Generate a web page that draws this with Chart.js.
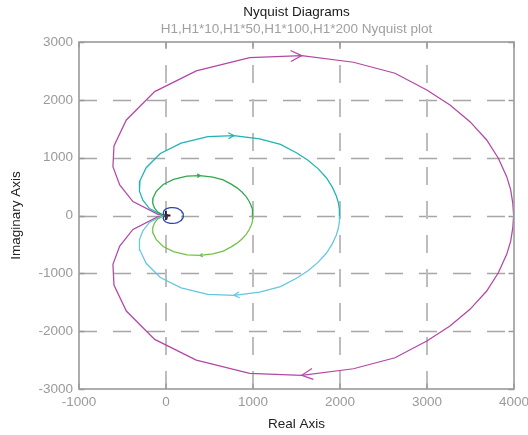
<!DOCTYPE html>
<html>
<head>
<meta charset="utf-8">
<script src="https://cdn.jsdelivr.net/npm/chart.js@4"></script>
<style>
  html, body { margin: 0; padding: 0; background: #ffffff; }
  #wrap { width: 528px; height: 435px; }
</style>
</head>
<body>
<div id="wrap"><canvas id="nyq" width="528" height="435"></canvas></div>
<script>
// H1(jw) along the upper branch, from w = 0 (on the real axis) to w -> inf (origin)
const h1Re = [19.98, 19.93, 19.81, 19.58, 19.10, 18.43, 17.47, 16.32, 14.99, 13.16, 10.77,
              7.80, 4.81, 1.74, -0.65, -2.28, -2.99, -3.05, -2.66, -1.90, -0.46, 0];
const h1Im = [0, 1.06, 2.21, 3.36, 4.95, 6.53, 8.11, 9.56, 10.85, 12.30, 13.25,
              13.82, 13.65, 12.50, 10.71, 8.26, 6.01, 4.22, 2.64, 1.20, 0.10, 0];

// Loop gains plotted
const gains = [1, 10, 50, 100, 200];
const seriesNames = ['H1', 'H1*10', 'H1*50', 'H1*100', 'H1*200'];

// Axis ticks
const xTicks = [-1000, 0, 1000, 2000, 3000, 4000];
const yTicks = [-3000, -2000, -1000, 0, 1000, 2000, 3000];

// Critical point -1 + j0
const criticalPoint = [{ x: -1, y: 0 }];

// Vertex of each branch that carries the direction arrow
const arrowVertex = 11;

// Line colours: [upper branch, lower branch]
const branchColors = [
  ['#5a2a2a', '#5a2a2a'],
  ['#2f45a6', '#2f45a6'],
  ['#2fa84e', '#72c14a'],
  ['#1fb3b5', '#62c7e0'],
  ['#b446a6', '#b446a6']
];

const FONT = '"Liberation Sans", Arial, Helvetica, sans-serif';

function branch(g, sign) {
  return h1Re.map((r, i) => ({ x: g * r, y: sign * g * h1Im[i] }));
}

const datasets = [];
gains.forEach((g, k) => {
  datasets.push({
    label: seriesNames[k],
    data: branch(g, 1),
    showLine: true,
    borderColor: branchColors[k][0],
    borderWidth: 1.25,
    pointRadius: 0,
    tension: 0,
    arrowGain: g,
    arrowFrom: arrowVertex + 1,
    arrowTo: arrowVertex
  });
  datasets.push({
    label: seriesNames[k] + ' (w<0)',
    data: branch(g, -1),
    showLine: true,
    borderColor: branchColors[k][1],
    borderWidth: 1.25,
    pointRadius: 0,
    tension: 0,
    arrowGain: g,
    arrowFrom: arrowVertex - 1,
    arrowTo: arrowVertex
  });
});
datasets.push({
  label: 'critical',
  data: criticalPoint,
  showLine: false,
  pointStyle: 'cross',
  pointRadius: 4.5,
  borderColor: '#1a1a1a',
  borderWidth: 1.8
});

// Dashed grid, framed box with inward ticks, and direction arrows
const framePlugin = {
  id: 'frame',
  beforeDatasetsDraw(chart) {
    const { ctx, chartArea: a, scales: { x, y } } = chart;
    ctx.save();
    ctx.setLineDash([18, 16]);
    // horizontal grid lines, drawn left to right
    ctx.strokeStyle = '#a6a6a6';
    ctx.lineWidth = 1.3;
    yTicks.forEach(v => {
      if (v <= y.min || v >= y.max) return;
      const py = Math.round(y.getPixelForValue(v)) + 0.5;
      ctx.beginPath();
      ctx.moveTo(a.left, py);
      ctx.lineTo(a.right, py);
      ctx.stroke();
    });
    // vertical grid lines, drawn bottom to top
    ctx.strokeStyle = '#bdbdbd';
    ctx.lineWidth = 2;
    xTicks.forEach(v => {
      if (v <= x.min || v >= x.max) return;
      const px = Math.round(x.getPixelForValue(v));
      ctx.beginPath();
      ctx.moveTo(px, a.bottom);
      ctx.lineTo(px, a.top);
      ctx.stroke();
    });
    ctx.restore();
  },
  afterDatasetsDraw(chart) {
    const { ctx, chartArea: a, scales: { x, y } } = chart;
    ctx.save();
    // arrows on each branch
    chart.data.datasets.forEach(ds => {
      if (!ds.arrowGain) return;
      const len = 11 * ds.arrowGain / 200;
      const half = 5 * ds.arrowGain / 200 + 0.5;
      if (len < 1.5) return;
      const p = ds.data[ds.arrowTo], q = ds.data[ds.arrowFrom];
      const tx = x.getPixelForValue(p.x), ty = y.getPixelForValue(p.y);
      const fx = x.getPixelForValue(q.x), fy = y.getPixelForValue(q.y);
      const d = Math.hypot(tx - fx, ty - fy);
      const ux = (tx - fx) / d, uy = (ty - fy) / d;
      ctx.strokeStyle = ds.borderColor;
      ctx.lineWidth = 1.2;
      ctx.beginPath();
      ctx.moveTo(tx - ux * len - uy * half, ty - uy * len + ux * half);
      ctx.lineTo(tx, ty);
      ctx.lineTo(tx - ux * len + uy * half, ty - uy * len - ux * half);
      ctx.stroke();
    });
    // frame
    ctx.strokeStyle = '#9a9a9a';
    ctx.lineWidth = 1.6;
    ctx.strokeRect(a.left, a.top, a.right - a.left, a.bottom - a.top);
    // inward tick marks on all four sides
    const tk = 5.5;
    ctx.lineWidth = 1.4;
    ctx.beginPath();
    xTicks.forEach(v => {
      const px = Math.round(x.getPixelForValue(v));
      ctx.moveTo(px, a.bottom); ctx.lineTo(px, a.bottom - tk);
      ctx.moveTo(px, a.top); ctx.lineTo(px, a.top + tk);
    });
    yTicks.forEach(v => {
      const py = Math.round(y.getPixelForValue(v)) + 0.5;
      ctx.moveTo(a.left, py); ctx.lineTo(a.left + tk, py);
      ctx.moveTo(a.right, py); ctx.lineTo(a.right - tk, py);
    });
    ctx.stroke();
    ctx.restore();
  }
};

new Chart(document.getElementById('nyq'), {
  type: 'scatter',
  data: { datasets },
  options: {
    responsive: false,
    devicePixelRatio: 1,
    animation: false,
    layout: { padding: { left: 0, right: 14, top: 0, bottom: 0 } },
    plugins: {
      legend: { display: false },
      tooltip: { enabled: false },
      title: {
        display: true,
        fullSize: false,
        text: 'Nyquist Diagrams',
        color: '#1a1a1a',
        font: { family: FONT, size: 13.5, weight: 'normal' },
        padding: { top: 4.5, bottom: 0 }
      },
      subtitle: {
        display: true,
        fullSize: false,
        text: 'H1,H1*10,H1*50,H1*100,H1*200 Nyquist plot',
        color: '#a0a0a0',
        font: { family: FONT, size: 13.5, weight: 'normal' },
        padding: { top: 0, bottom: 5.1 }
      }
    },
    scales: {
      x: {
        type: 'linear',
        min: xTicks[0],
        max: xTicks[xTicks.length - 1],
        afterBuildTicks: s => { s.ticks = xTicks.map(v => ({ value: v })); },
        afterFit: s => { s.height = 46; s.paddingLeft = 0; s.paddingRight = 0; },
        grid: { display: false, drawTicks: false, tickLength: 0 },
        border: { display: false },
        ticks: {
          color: '#9a9a9a',
          padding: 5,
          maxRotation: 0,
          autoSkip: false,
          font: { family: FONT, size: 13.5 },
          callback: v => String(v)
        },
        title: {
          display: true,
          text: 'Real Axis',
          color: '#222222',
          font: { family: FONT, size: 13.5 },
          padding: { top: 0, bottom: 3 }
        }
      },
      y: {
        type: 'linear',
        min: yTicks[0],
        max: yTicks[yTicks.length - 1],
        afterBuildTicks: s => { s.ticks = yTicks.map(v => ({ value: v })); },
        afterFit: s => { s.width = 79; },
        grid: { display: false, drawTicks: false, tickLength: 0 },
        border: { display: false },
        ticks: {
          color: '#9a9a9a',
          padding: 6,
          autoSkip: false,
          font: { family: FONT, size: 13.5 },
          callback: v => String(v)
        },
        title: {
          display: true,
          text: 'Imaginary Axis',
          color: '#222222',
          font: { family: FONT, size: 13.5 },
          padding: { top: 8, bottom: 0 }
        }
      }
    }
  },
  plugins: [framePlugin]
});
</script>
</body>
</html>
